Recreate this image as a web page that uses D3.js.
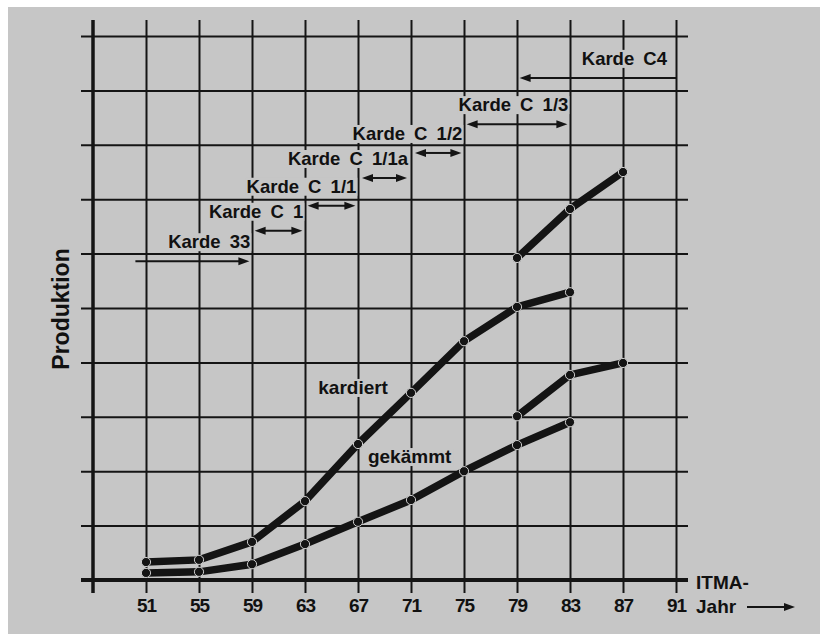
<!DOCTYPE html>
<html lang="de">
<head>
<meta charset="UTF-8">
<title>Produktion Karde</title>
<style>
  body { margin: 0; background: #fff; }
  svg text { font-family: "Liberation Sans", Arial, Helvetica, sans-serif; font-weight: bold; fill: #111; }
</style>
</head>
<body>
<script src="https://cdnjs.cloudflare.com/ajax/libs/d3/7.8.5/d3.min.js"></script>
<script>
// ITMA-Jahre (x) und Produktion in Gitter-Einheiten (y)
var years = [51, 55, 59, 63, 67, 71, 75, 79, 83, 87, 91];
var yGrid = [0, 1, 2, 3, 4, 5, 6, 7, 8, 9, 10];

var kardiertYears = [51, 55, 59, 63, 67, 71, 75, 79, 83];
var kardiert      = [0.33, 0.37, 0.70, 1.45, 2.50, 3.44, 4.39, 5.02, 5.29];
var gekaemmt      = [0.13, 0.15, 0.29, 0.66, 1.07, 1.47, 2.00, 2.48, 2.90];

var c4Years       = [79, 83, 87];
var kardiertC4    = [5.92, 6.82, 7.50];
var gekaemmtC4    = [3.01, 3.77, 3.99];

// Karden-Generationen: Name, Zeitraum (Jahre), Hoehe des Pfeils
var karden = [
  { name: 'Karde 33',     from: 50.2, to: 58.8, level: 5.86, head: 'end' },
  { name: 'Karde C 1',    from: 59.2, to: 62.8, level: 6.42, head: 'both' },
  { name: 'Karde C 1/1',  from: 63.2, to: 66.8, level: 6.88, head: 'both' },
  { name: 'Karde C 1/1a', from: 67.3, to: 70.7, level: 7.39, head: 'both' },
  { name: 'Karde C 1/2',  from: 71.3, to: 74.8, level: 7.85, head: 'both' },
  { name: 'Karde C 1/3',  from: 75.2, to: 82.8, level: 8.38, head: 'both' },
  { name: 'Karde C4',     from: 79.2, to: 91.0, level: 9.23, head: 'start' }
];

var W = 825, H = 634;
var bg = '#c6c6c6', ink = '#141414';

var x = d3.scaleLinear().domain([47, 91]).range([93, 676]);
var y = d3.scaleLinear().domain([0, 10]).range([580, 36]);

var svg = d3.select('body').append('svg')
  .attr('width', W)
  .attr('height', H);

// grauer Hintergrund
svg.append('rect').attr('x', 8).attr('y', 7).attr('width', 812).attr('height', H - 7).attr('fill', bg);

// senkrechtes Gitter + Jahreszahlen
var xAxis = d3.axisBottom(x).tickValues(years).tickSize(-(593 - 20)).tickPadding(6).tickFormat(d3.format('d'));
var gx = svg.append('g').attr('transform', 'translate(0,593)').call(xAxis);
gx.select('.domain').remove();
gx.selectAll('line').attr('stroke', ink).attr('stroke-width', 2);
gx.selectAll('text').attr('font-size', 19).attr('fill', ink).attr('letter-spacing', -1);

// waagrechtes Gitter
var yAxis = d3.axisLeft(y).tickValues(yGrid).tickSize(-(688 - 81)).tickFormat('');
var gy = svg.append('g').attr('transform', 'translate(81,0)').call(yAxis);
gy.select('.domain').remove();
gy.selectAll('line').attr('stroke', ink).attr('stroke-width', 2);

// Achsen
svg.append('line').attr('x1', x(47)).attr('x2', x(47)).attr('y1', 20).attr('y2', 593)
  .attr('stroke', ink).attr('stroke-width', 3.5);
svg.append('line').attr('x1', 81).attr('x2', 688).attr('y1', y(0)).attr('y2', y(0))
  .attr('stroke', ink).attr('stroke-width', 4);

// Achsentitel
svg.append('text')
  .attr('transform', 'translate(69,309) rotate(-90)')
  .attr('text-anchor', 'middle')
  .attr('font-size', 23)
  .text('Produktion');

svg.append('text').attr('x', 696).attr('y', 589).attr('font-size', 19).text('ITMA-');
svg.append('text').attr('x', 696).attr('y', 613).attr('font-size', 19).text('Jahr');

// Pfeilspitzen
function head(g, px, py, dir) {
  g.append('path')
    .attr('d', 'M' + px + ',' + py + 'l' + (-11 * dir) + ',-4l0,8z')
    .attr('fill', ink);
}

var ja = svg.append('g');
ja.append('line').attr('x1', 747).attr('x2', 786).attr('y1', 607).attr('y2', 607)
  .attr('stroke', ink).attr('stroke-width', 2);
head(ja, 795, 607, 1);

// Karden: Text (mit Aussparung im Gitter) und Pfeile
var kg = svg.selectAll('.karde').data(karden).enter().append('g').attr('class', 'karde');

kg.each(function (d) {
  var g = d3.select(this);
  var knock = g.append('rect').attr('fill', bg);
  var t = g.append('text')
    .attr('x', x(d.to) + (d.head === 'start' ? -9 : 1))
    .attr('y', y(d.level) - 13)
    .attr('text-anchor', 'end')
    .attr('font-size', 18.5)
    .attr('word-spacing', 4)
    .text(d.name);
  var b = t.node().getBBox();
  knock.attr('x', b.x - 1).attr('y', b.y + 2).attr('width', b.width + 2).attr('height', b.height - 3);

  var x1 = x(d.from), x2 = x(d.to), yy = y(d.level);
  g.append('line')
    .attr('x1', d.head === 'end' ? x1 : x1 + 8)
    .attr('x2', d.head === 'start' ? x2 : x2 - 8)
    .attr('y1', yy).attr('y2', yy)
    .attr('stroke', ink).attr('stroke-width', 2);
  if (d.head === 'end' || d.head === 'both') head(g, x2, yy, 1);
  if (d.head === 'start' || d.head === 'both') head(g, x1, yy, -1);
});

// Kurvenbeschriftung
[['kardiert', 64.0, 3.42], ['gekämmt', 67.75, 2.15]].forEach(function (l) {
  var knock = svg.append('rect').attr('fill', bg);
  var t = svg.append('text').attr('x', x(l[1])).attr('y', y(l[2])).attr('font-size', 19).text(l[0]);
  var b = t.node().getBBox();
  knock.attr('x', b.x - 1).attr('y', b.y + 2).attr('width', b.width + 2).attr('height', b.height - 3);
});

// Datenlinien
var series = [
  { xs: kardiertYears, ys: kardiert },
  { xs: kardiertYears, ys: gekaemmt },
  { xs: c4Years, ys: kardiertC4 },
  { xs: c4Years, ys: gekaemmtC4 }
];

var line = d3.line().x(function (d) { return x(d[0]); }).y(function (d) { return y(d[1]); });

series.forEach(function (s) {
  var pts = d3.zip(s.xs, s.ys);
  svg.append('path')
    .datum(pts)
    .attr('d', line)
    .attr('fill', 'none')
    .attr('stroke', ink)
    .attr('stroke-width', 7.5)
    .attr('stroke-linecap', 'round');
  svg.selectAll(null).data(pts).enter().append('circle')
    .attr('cx', function (d) { return x(d[0]); })
    .attr('cy', function (d) { return y(d[1]); })
    .attr('r', 4.6)
    .attr('fill', ink)
    .attr('stroke', '#cfcfcf')
    .attr('stroke-width', 1);
});
</script>
</body>
</html>
